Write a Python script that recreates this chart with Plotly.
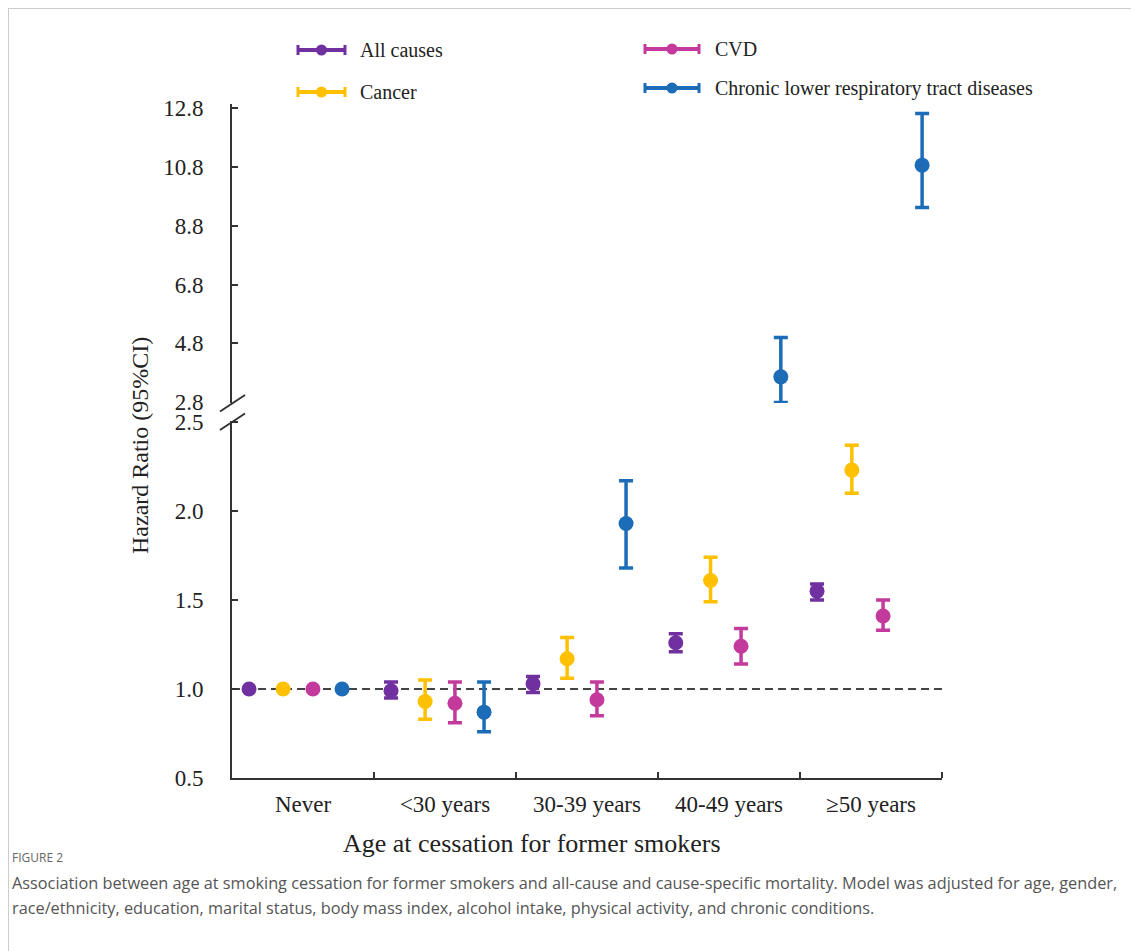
import numpy as np
import plotly.graph_objects as go

# ---------------- data ----------------
categories = ["Never", "<30 years", "30-39 years", "40-49 years", "≥50 years"]
series_names = ["All causes", "Cancer", "CVD", "Chronic lower respiratory tract diseases"]

all_causes_hr = [1.00, 0.99, 1.03, 1.26, 1.55]
all_causes_lo = [1.00, 0.95, 0.98, 1.21, 1.50]
all_causes_hi = [1.00, 1.04, 1.07, 1.31, 1.59]

cancer_hr = [1.00, 0.93, 1.17, 1.61, 2.23]
cancer_lo = [1.00, 0.83, 1.06, 1.49, 2.10]
cancer_hi = [1.00, 1.05, 1.29, 1.74, 2.37]

cvd_hr = [1.00, 0.92, 0.94, 1.24, 1.41]
cvd_lo = [1.00, 0.81, 0.85, 1.14, 1.33]
cvd_hi = [1.00, 1.04, 1.04, 1.34, 1.50]

clrd_hr = [1.00, 0.87, 1.93, 3.66, 10.86]
clrd_lo = [1.00, 0.76, 1.68, 2.79, 9.42]
clrd_hi = [1.00, 1.04, 2.17, 5.00, 12.62]

lower_ticks = [0.5, 1.0, 1.5, 2.0, 2.5]
upper_ticks = [2.8, 4.8, 6.8, 8.8, 10.8, 12.8]

# ---------------- style ----------------
colors = ["#7030a0", "#ffc000", "#c43a9c", "#1c6cb8"]
# position of each series inside its category slot (fraction of slot width)
slot_offsets = [
    [0.12, 0.12, 0.12, 0.125, 0.12],
    [0.36, 0.36, 0.36, 0.37, 0.365],
    [0.57, 0.57, 0.57, 0.585, 0.585],
    [0.775, 0.775, 0.775, 0.865, 0.86],
]
SERIF = "Liberation Serif"
SANS = "Open Sans"
AXC = "#333333"
BREAK = 2.5

hr = [all_causes_hr, cancer_hr, cvd_hr, clrd_hr]
lo = [all_causes_lo, cancer_lo, cvd_lo, clrd_lo]
hi = [all_causes_hi, cancer_hi, cvd_hi, clrd_hi]

# page offset (body margin) and pixel geometry of plot area in page pixels
OFF = 8
L, R, T, B = 232, 942, 104, 778
W_FIG, H_FIG = 1139 - OFF, 951 - OFF


def px(xp):
    return (xp - L) / (R - L)


def py(yp):
    return (B - yp) / (B - T)


fig = go.Figure()

for s in range(4):
    v = np.array(hr[s], dtype=float)
    l = np.array(lo[s], dtype=float)
    h = np.array(hi[s], dtype=float)
    xs = np.arange(len(categories)) + np.array(slot_offsets[s])
    for mask, yax in ((v <= BREAK, "y"), (v > BREAK, "y2")):
        if not mask.any():
            continue
        fig.add_trace(go.Scatter(
            x=xs[mask], y=v[mask], mode="markers",
            xaxis="x", yaxis=yax, name=series_names[s], showlegend=False,
            marker=dict(color=colors[s], size=15, line=dict(width=0)),
            error_y=dict(type="data", symmetric=False,
                         array=(h - v)[mask], arrayminus=(v - l)[mask],
                         color=colors[s], thickness=3.5, width=7),
            cliponaxis=False,
        ))

shapes = []
# reference line at HR = 1
shapes.append(dict(type="line", xref="x domain", yref="y", x0=0, x1=1, y0=1.0, y1=1.0,
                   line=dict(color="#444444", width=2, dash="8px,5px"), layer="below"))
# axis-break slashes
for (ya, yb) in ((411.5, 395), (430, 413.5)):
    shapes.append(dict(type="line", xref="paper", yref="paper",
                       x0=px(220), x1=px(245), y0=py(ya), y1=py(yb),
                       line=dict(color=AXC, width=2)))
# outer frame
shapes.append(dict(type="rect", xref="paper", yref="paper",
                   x0=px(8), x1=px(1170), y0=py(8), y1=py(990),
                   line=dict(color="#cccccc", width=2), layer="below"))

annotations = []
# manual legend
legend_items = [
    (0, 298, 345, 50, 358),
    (1, 298, 345, 92, 358),
    (2, 645, 699, 49, 713),
    (3, 645, 699, 88, 713),
]
for s, xa, xb, yc, xt in legend_items:
    c = colors[s]
    shapes.append(dict(type="line", xref="paper", yref="paper",
                       x0=px(xa), x1=px(xb), y0=py(yc), y1=py(yc),
                       line=dict(color=c, width=4)))
    for xe in (xa, xb):
        shapes.append(dict(type="line", xref="paper", yref="paper",
                           x0=px(xe), x1=px(xe), y0=py(yc - 5), y1=py(yc + 5),
                           line=dict(color=c, width=3)))
    xm = (xa + xb) / 2
    shapes.append(dict(type="circle", xref="paper", yref="paper",
                       x0=px(xm - 5.5), x1=px(xm + 5.5), y0=py(yc - 5.5), y1=py(yc + 5.5),
                       fillcolor=c, line=dict(color=c, width=0)))
    annotations.append(dict(xref="paper", yref="paper", x=px(xt), y=py(yc),
                            xanchor="left", yanchor="middle", showarrow=False,
                            text=series_names[s], font=dict(family=SERIF, size=20, color="#222222")))

# axis titles
annotations.append(dict(xref="paper", yref="paper", x=px(140), y=py(446),
                        xanchor="center", yanchor="middle", showarrow=False, textangle=-90,
                        text="Hazard Ratio (95%CI)", font=dict(family=SERIF, size=24, color="#222222")))
annotations.append(dict(xref="paper", yref="paper", x=px(532), y=py(843),
                        xanchor="center", yanchor="middle", showarrow=False,
                        text="Age at cessation for former smokers",
                        font=dict(family=SERIF, size=26, color="#222222")))
# caption
annotations.append(dict(xref="paper", yref="paper", x=px(10), y=py(857),
                        xanchor="left", yanchor="middle", showarrow=False,
                        text="FIGURE 2", font=dict(family=SANS, size=12, color="#666666")))
cap1 = ("Association between age at smoking cessation for former smokers and all-cause and "
        "cause-specific mortality. Model was adjusted for age, gender,")
cap2 = ("race/ethnicity, education, marital status, body mass index, alcohol intake, "
        "physical activity, and chronic conditions.")
for txt, yc in ((cap1, 883), (cap2, 908)):
    annotations.append(dict(xref="paper", yref="paper", x=px(10), y=py(yc),
                            xanchor="left", yanchor="middle", showarrow=False,
                            text=txt, font=dict(family=SANS, size=16.3, color="#555555")))

lower_frac = (B - 421) / (B - T)
upper_frac = (B - 403) / (B - T)

fig.update_layout(
    width=W_FIG, height=H_FIG,
    margin=dict(l=L - OFF, r=W_FIG - (R - OFF), t=T - OFF, b=H_FIG - (B - OFF), pad=0),
    paper_bgcolor="white", plot_bgcolor="white",
    showlegend=False,
    shapes=shapes, annotations=annotations,
    xaxis=dict(
        domain=[0, 1], anchor="y", range=[0, len(categories)],
        tickvals=[i + 0.5 for i in range(len(categories))], ticktext=categories,
        ticks="", showgrid=False, zeroline=False,
        showline=True, linecolor=AXC, linewidth=2,
        tickfont=dict(family=SERIF, size=23, color="#222222"),
        ticklabelstandoff=4,
        minor=dict(tickvals=list(range(1, len(categories) + 1)), ticks="inside",
                   ticklen=6, tickwidth=2, tickcolor=AXC, showgrid=False),
    ),
    yaxis=dict(
        domain=[0, lower_frac], anchor="x", range=[0.5, 2.506],
        tickvals=lower_ticks, ticktext=[f"{t:.1f}" for t in lower_ticks],
        ticks="inside", ticklen=6, tickwidth=2, tickcolor=AXC,
        showline=True, linecolor=AXC, linewidth=2, showgrid=False, zeroline=False,
        tickfont=dict(family=SERIF, size=23, color="#222222"), ticklabelstandoff=22,
    ),
    yaxis2=dict(
        domain=[upper_frac, 1], anchor="x", range=[2.77, 12.94],
        tickvals=upper_ticks, ticktext=[f"{t:.1f}" for t in upper_ticks],
        ticks="inside", ticklen=6, tickwidth=2, tickcolor=AXC,
        showline=True, linecolor=AXC, linewidth=2, showgrid=False, zeroline=False,
        tickfont=dict(family=SERIF, size=23, color="#222222"), ticklabelstandoff=22,
    ),
)

fig.write_html("out.html")
